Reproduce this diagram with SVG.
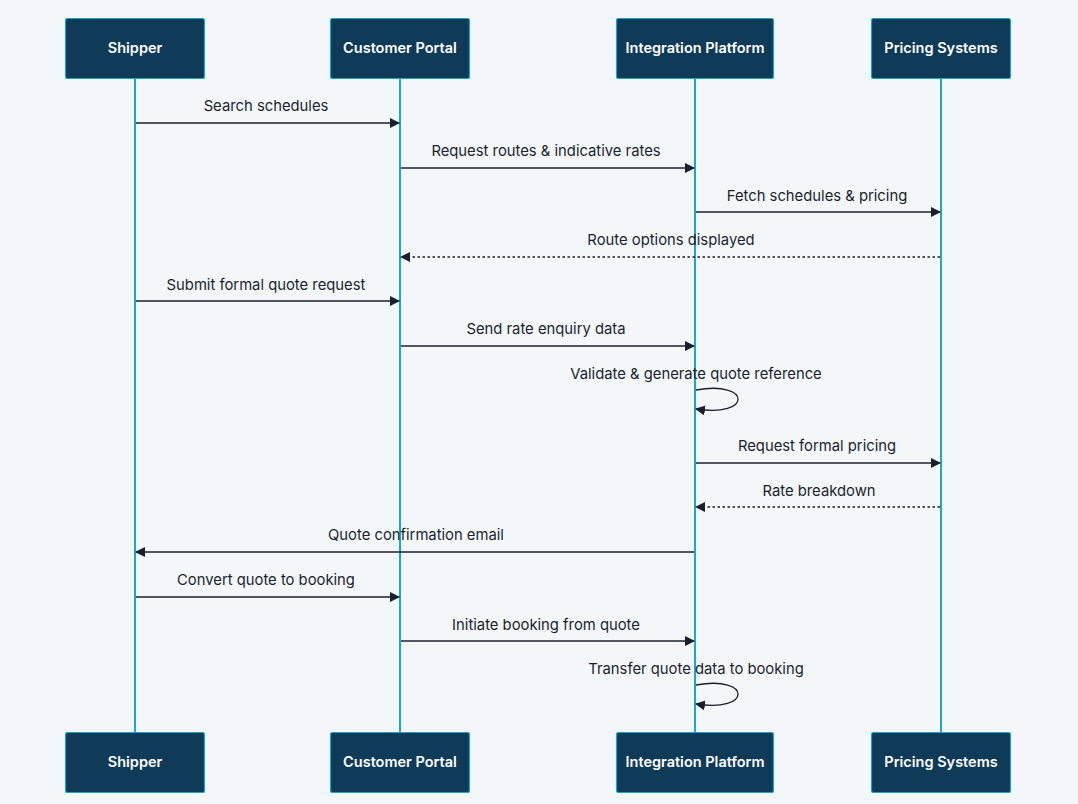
<svg xmlns="http://www.w3.org/2000/svg" width="1078" height="804" viewBox="0 0 1078 804">
<defs>
<style>
.box{fill:#0f3a58;stroke:#1ba6c4;stroke-width:1.2}
.bt{fill:#ffffff;font-family:Inter,"Liberation Sans",sans-serif;font-size:14.5px;font-weight:600;text-anchor:middle}
.life{stroke:#1aa9c9;stroke-width:2}
.msg{stroke:#1a1f2e;stroke-width:1.3;fill:none}
.dash{stroke-dasharray:2.5,2.5}
.lbl{fill:#1a1f2e;font-family:Inter,"Liberation Sans",sans-serif;font-size:14.8px;text-anchor:middle}
</style>
<marker id="ah" viewBox="0 0 10 10" refX="9" refY="5" markerWidth="10" markerHeight="10" markerUnits="userSpaceOnUse" orient="auto">
<path d="M0,0 L10,5 L0,10 z" fill="#1a1f2e"/>
</marker>
</defs>
<rect width="1078" height="804" fill="#f4f7fa"/>
<g id="lifelines">
<line class="life" x1="135" y1="78" x2="135" y2="732"/>
<line class="life" x1="400" y1="78" x2="400" y2="732"/>
<line class="life" x1="695" y1="78" x2="695" y2="732"/>
<line class="life" x1="941" y1="78" x2="941" y2="732"/>
</g>
<g id="shipper"><rect class="box" x="65.5" y="18.5" width="139" height="60" rx="2"/><text class="bt" x="135" y="53">Shipper</text></g>
<g id="portal"><rect class="box" x="330.5" y="18.5" width="139" height="60" rx="2"/><text class="bt" x="400" y="53">Customer Portal</text></g>
<g id="platform"><rect class="box" x="616.5" y="18.5" width="157" height="60" rx="2"/><text class="bt" x="695" y="53">Integration Platform</text></g>
<g id="pricing"><rect class="box" x="871.5" y="18.5" width="139" height="60" rx="2"/><text class="bt" x="941" y="53">Pricing Systems</text></g>
<g id="shipper-bottom"><rect class="box" x="65.5" y="732.5" width="139" height="60" rx="2"/><text class="bt" x="135" y="767">Shipper</text></g>
<g id="portal-bottom"><rect class="box" x="330.5" y="732.5" width="139" height="60" rx="2"/><text class="bt" x="400" y="767">Customer Portal</text></g>
<g id="platform-bottom"><rect class="box" x="616.5" y="732.5" width="157" height="60" rx="2"/><text class="bt" x="695" y="767">Integration Platform</text></g>
<g id="pricing-bottom"><rect class="box" x="871.5" y="732.5" width="139" height="60" rx="2"/><text class="bt" x="941" y="767">Pricing Systems</text></g>
<g id="connectors">
<line class="msg" x1="136" y1="123" x2="399" y2="123" marker-end="url(#ah)"/>
<text class="lbl" x="266" y="111">Search schedules</text>
<line class="msg" x1="401" y1="168" x2="694" y2="168" marker-end="url(#ah)"/>
<text class="lbl" x="546" y="156">Request routes &amp; indicative rates</text>
<line class="msg" x1="696" y1="212" x2="940" y2="212" marker-end="url(#ah)"/>
<text class="lbl" x="817" y="201">Fetch schedules &amp; pricing</text>
<line class="msg dash" x1="940" y1="257" x2="401" y2="257" marker-end="url(#ah)"/>
<text class="lbl" x="671" y="245">Route options displayed</text>
<line class="msg" x1="136" y1="301" x2="399" y2="301" marker-end="url(#ah)"/>
<text class="lbl" x="266" y="290">Submit formal quote request</text>
<line class="msg" x1="401" y1="346" x2="694" y2="346" marker-end="url(#ah)"/>
<text class="lbl" x="546" y="334">Send rate enquiry data</text>
<path class="msg" d="M696,390 C752,380 752,418 696,409" marker-end="url(#ah)"/>
<text class="lbl" x="696" y="379">Validate &amp; generate quote reference</text>
<line class="msg" x1="696" y1="463" x2="940" y2="463" marker-end="url(#ah)"/>
<text class="lbl" x="817" y="451">Request formal pricing</text>
<line class="msg dash" x1="940" y1="507" x2="696" y2="507" marker-end="url(#ah)"/>
<text class="lbl" x="819" y="496">Rate breakdown</text>
<line class="msg" x1="694" y1="552" x2="136" y2="552" marker-end="url(#ah)"/>
<text class="lbl" x="416" y="540">Quote confirmation email</text>
<line class="msg" x1="136" y1="597" x2="399" y2="597" marker-end="url(#ah)"/>
<text class="lbl" x="266" y="585">Convert quote to booking</text>
<line class="msg" x1="401" y1="641" x2="694" y2="641" marker-end="url(#ah)"/>
<text class="lbl" x="546" y="630">Initiate booking from quote</text>
<path class="msg" d="M696,685 C752,675 752,713 696,704" marker-end="url(#ah)"/>
<text class="lbl" x="696" y="674">Transfer quote data to booking</text>
</g>
</svg>
